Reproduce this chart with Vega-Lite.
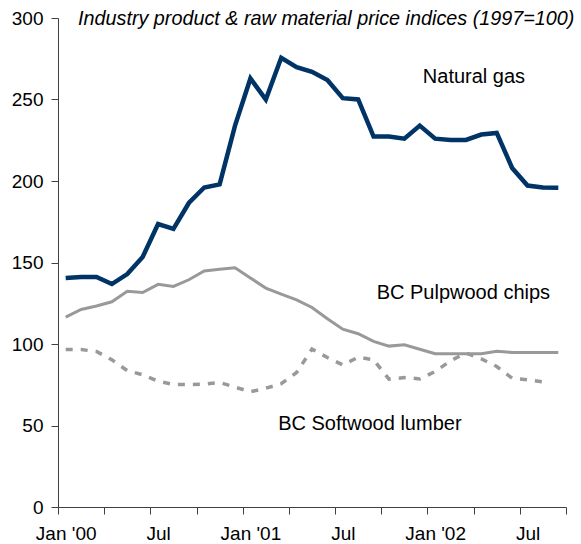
{
  "$schema": "https://vega.github.io/schema/vega-lite/v6.json",
  "width": 508,
  "height": 489,
  "autosize": "none",
  "padding": {"left": 58, "top": 18, "right": 15, "bottom": 37},
  "background": "white",
  "title": {
    "text": "Industry product & raw material price indices (1997=100)",
    "anchor": "start",
    "frame": "group",
    "orient": "top",
    "dx": 20,
    "offset": -36,
    "baseline": "alphabetic",
    "font": "Liberation Sans",
    "fontSize": 19.8,
    "fontStyle": "italic",
    "fontWeight": "normal",
    "color": "#000000"
  },
  "config": {
    "view": {"stroke": null},
    "font": "Liberation Sans",
    "axis": {
      "grid": false,
      "domainColor": "#404040",
      "tickColor": "#404040",
      "labelColor": "#000000",
      "labelFont": "Liberation Sans",
      "labelFontSize": 19,
      "title": null,
      "domainWidth": 1,
      "tickWidth": 1
    }
  },
  "data": {
    "values": [
      {"month": "2000-01", "i": 0, "gas": 140.5, "chips": 116.5, "lumber": 96.6},
      {"month": "2000-02", "i": 1, "gas": 141.1, "chips": 121.2, "lumber": 96.6},
      {"month": "2000-03", "i": 2, "gas": 141.1, "chips": 123.3, "lumber": 95.4},
      {"month": "2000-04", "i": 3, "gas": 136.8, "chips": 125.9, "lumber": 90.3},
      {"month": "2000-05", "i": 4, "gas": 142.9, "chips": 132.3, "lumber": 83.7},
      {"month": "2000-06", "i": 5, "gas": 153.4, "chips": 131.6, "lumber": 81.1},
      {"month": "2000-07", "i": 6, "gas": 173.6, "chips": 136.6, "lumber": 77.2},
      {"month": "2000-08", "i": 7, "gas": 170.6, "chips": 135.3, "lumber": 75.1},
      {"month": "2000-09", "i": 8, "gas": 186.5, "chips": 139.4, "lumber": 75.1},
      {"month": "2000-10", "i": 9, "gas": 196.0, "chips": 144.8, "lumber": 75.3},
      {"month": "2000-11", "i": 10, "gas": 197.9, "chips": 145.8, "lumber": 76.4},
      {"month": "2000-12", "i": 11, "gas": 234.0, "chips": 146.8, "lumber": 73.5},
      {"month": "2001-01", "i": 12, "gas": 262.9, "chips": 140.5, "lumber": 70.7},
      {"month": "2001-02", "i": 13, "gas": 250.0, "chips": 134.3, "lumber": 72.9},
      {"month": "2001-03", "i": 14, "gas": 275.6, "chips": 130.6, "lumber": 75.6},
      {"month": "2001-04", "i": 15, "gas": 269.9, "chips": 127.1, "lumber": 82.5},
      {"month": "2001-05", "i": 16, "gas": 267.0, "chips": 122.4, "lumber": 96.9},
      {"month": "2001-06", "i": 17, "gas": 261.9, "chips": 115.5, "lumber": 91.7},
      {"month": "2001-07", "i": 18, "gas": 250.8, "chips": 109.1, "lumber": 87.2},
      {"month": "2001-08", "i": 19, "gas": 250.0, "chips": 106.3, "lumber": 91.9},
      {"month": "2001-09", "i": 20, "gas": 227.3, "chips": 101.6, "lumber": 90.3},
      {"month": "2001-10", "i": 21, "gas": 227.3, "chips": 98.7, "lumber": 78.4},
      {"month": "2001-11", "i": 22, "gas": 226.0, "chips": 99.5, "lumber": 79.4},
      {"month": "2001-12", "i": 23, "gas": 234.0, "chips": 96.8, "lumber": 78.6},
      {"month": "2002-01", "i": 24, "gas": 226.0, "chips": 94.0, "lumber": 83.1},
      {"month": "2002-02", "i": 25, "gas": 225.2, "chips": 94.0, "lumber": 89.7},
      {"month": "2002-03", "i": 26, "gas": 225.2, "chips": 94.0, "lumber": 94.4},
      {"month": "2002-04", "i": 27, "gas": 228.5, "chips": 94.0, "lumber": 90.9},
      {"month": "2002-05", "i": 28, "gas": 229.5, "chips": 95.6, "lumber": 86.2},
      {"month": "2002-06", "i": 29, "gas": 208.0, "chips": 94.8, "lumber": 79.0},
      {"month": "2002-07", "i": 30, "gas": 197.2, "chips": 94.8, "lumber": 78.0},
      {"month": "2002-08", "i": 31, "gas": 196.0, "chips": 94.8, "lumber": 76.8},
      {"month": "2002-09", "i": 32, "gas": 195.8, "chips": 94.8, "lumber": null}
    ]
  },
  "encoding": {
    "x": {
      "field": "i",
      "type": "quantitative",
      "scale": {"domain": [-0.5, 32.5], "nice": false, "zero": false},
      "axis": {
        "values": [-0.5, 2.5, 5.5, 8.5, 11.5, 14.5, 17.5, 20.5, 23.5, 26.5, 29.5, 32.5],
        "labelExpr": "datum.value == -0.5 ? \"Jan '00\" : datum.value == 5.5 ? 'Jul' : datum.value == 11.5 ? \"Jan '01\" : datum.value == 17.5 ? 'Jul' : datum.value == 23.5 ? \"Jan '02\" : datum.value == 29.5 ? 'Jul' : ''",
        "labelOffset": 7.7,
        "labelFlush": false,
        "labelOverlap": false,
        "labelAlign": "center",
        "tickSize": 7,
        "labelPadding": 10
      }
    }
  },
  "layer": [
    {
      "mark": {"type": "line", "color": "#999999", "strokeWidth": 3.5, "strokeDash": [7, 8]},
      "encoding": {
        "y": {
          "field": "lumber",
          "type": "quantitative",
          "scale": {"domain": [0, 300], "nice": false},
          "axis": {"values": [0, 50, 100, 150, 200, 250, 300], "tickSize": 7, "labelPadding": 8}
        }
      }
    },
    {
      "mark": {"type": "line", "color": "#999999", "strokeWidth": 3},
      "encoding": {"y": {"field": "chips", "type": "quantitative"}}
    },
    {
      "mark": {"type": "line", "color": "#003366", "strokeWidth": 4.5},
      "encoding": {"y": {"field": "gas", "type": "quantitative"}}
    },
    {
      "transform": [{"filter": "datum.i == 0"}],
      "mark": {"type": "text", "align": "left", "baseline": "alphabetic", "fontSize": 20, "font": "Liberation Sans", "color": "#000000"},
      "encoding": {"x": {"datum": 23.2}, "y": {"datum": 260.3}, "text": {"value": "Natural gas"}}
    },
    {
      "transform": [{"filter": "datum.i == 0"}],
      "mark": {"type": "text", "align": "left", "baseline": "alphabetic", "fontSize": 20, "font": "Liberation Sans", "color": "#000000"},
      "encoding": {"x": {"datum": 20.2}, "y": {"datum": 127.6}, "text": {"value": "BC Pulpwood chips"}}
    },
    {
      "transform": [{"filter": "datum.i == 0"}],
      "mark": {"type": "text", "align": "left", "baseline": "alphabetic", "fontSize": 20, "font": "Liberation Sans", "color": "#000000"},
      "encoding": {"x": {"datum": 13.8}, "y": {"datum": 47.3}, "text": {"value": "BC Softwood lumber"}}
    }
  ]
}
